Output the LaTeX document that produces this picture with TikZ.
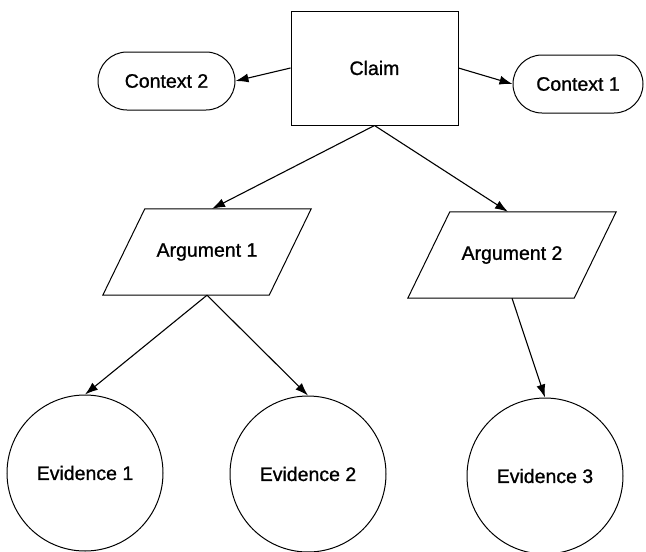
\documentclass[tikz,border=0pt]{standalone}
\usepackage{fontspec}
\setmainfont{Liberation Sans}
\newfontfamily\labelfont[FakeBold=1]{Liberation Sans}
\usetikzlibrary{arrows.meta}
\begin{document}
\begin{tikzpicture}[x=1pt,y=-1pt,
  every node/.style={font=\labelfont\fontsize{19.5}{22}\selectfont, inner sep=0pt},
  outline/.style={draw, line width=1pt},
  claimbox/.style={outline, rectangle, minimum width=167pt, minimum height=114pt},
  contextbox/.style={outline, rectangle, rounded corners=29pt, minimum height=58pt},
  argbox/.style={rectangle, minimum width=208pt, minimum height=86pt},
  evidence/.style={outline, circle, minimum size=156pt},
  link/.style={line width=1.1pt, -{Latex[length=13pt,width=9pt]}}
]
\useasboundingbox (0,0) rectangle (646,552);

% nodes
\node[claimbox] (claim) at (374.5,68) {Claim};
\node[contextbox, minimum width=137pt] (ctx2) at (166.5,81) {Context 2};
\node[contextbox, minimum width=130pt] (ctx1) at (578,84) {Context 1};
\node[argbox] (arg1) at (207,252) {Argument 1};
\node[argbox] (arg2) at (512,255) {Argument 2};
\node[evidence] (ev1) at (85,473) {Evidence 1};
\node[evidence] (ev2) at (308,474) {Evidence 2};
\node[evidence] (ev3) at (545,476) {Evidence 3};

% slanted outlines of the argument boxes
\foreach \n in {arg1,arg2}
  \draw[outline] ([xshift=42pt]\n.north west) -- (\n.north east)
    -- ([xshift=-42pt]\n.south east) -- (\n.south west) -- cycle;

% connectors
\draw[link] (claim.west) -- (ctx2.east);
\draw[link] (claim.east) -- (ctx1.west);
\draw[link] (claim.south) -- ([xshift=5pt]arg1.north);
\draw[link] (claim.south) -- ([xshift=-4pt]arg2.north);
\draw[link] (arg1.south) -- (ev1.north);
\draw[link] (arg1.south) -- (ev2.north);
\draw[link] (arg2.south) -- (ev3.north);
\end{tikzpicture}
\end{document}
